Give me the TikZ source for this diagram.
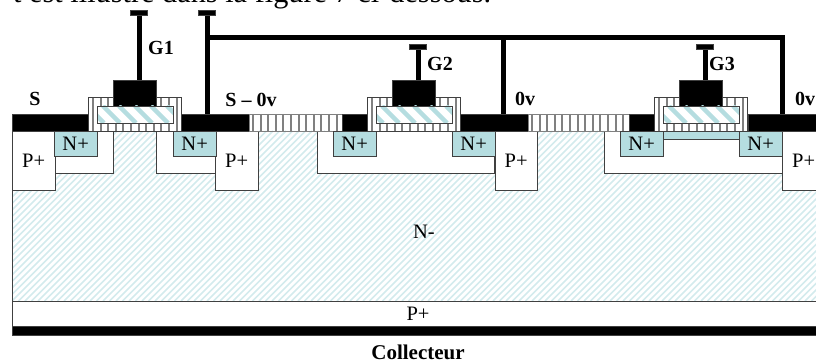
\documentclass[tikz,border=0pt]{standalone}
\usepackage{fontspec}
\setmainfont{Liberation Serif}
\definecolor{paleteal}{HTML}{B5DDE0}
\definecolor{hatchteal}{HTML}{D3EBED}
\begin{document}
\begin{tikzpicture}[x=1pt,y=-1pt,
    outline/.style={draw=black!75, line width=0.8pt},
    metal/.style={fill=black, draw=black!75, line width=0.5pt},
    wire/.style={draw=black, line width=5pt},
    bulkline/.style={draw=hatchteal, line width=1.7pt},
    polyline/.style={draw=paleteal, line width=4.5pt},
    stripeline/.style={draw=black!50, line width=2pt},
    well/.style={outline, fill=white},
    region/.style={outline, inner sep=0pt, font=\fontsize{20.5}{20.5}\selectfont},
    pplus/.style={region, fill=white, minimum width=42.5pt, minimum height=59pt, anchor=north west},
    nplus/.style={region, fill=paleteal, minimum width=42.5pt, minimum height=25pt, anchor=north west},
    lbl/.style={font=\fontsize{20}{20}\selectfont\bfseries, inner sep=0pt}]

\useasboundingbox (0,0) rectangle (816,363);
\node[anchor=base west, inner sep=0pt, font=\fontsize{30.3}{30.3}\selectfont] (phrase) at (13,3) {t est illustré dans la figure 7 ci-dessous.};

% substrate
\begin{scope}
    \clip (12,131) rectangle (830,301);
    \foreach \k in {0,6.5,...,1000}
        \draw[bulkline] (\k-170,301) -- (\k,131);
\end{scope}
\draw[outline] (12,131) -- (12,301);
\draw[well] (12,301) rectangle (830,326);
\fill[metal] (12,326) rectangle (830,335.5);

% wells
\draw[well] (54,131) rectangle (113,173);
\draw[well] (156,131) rectangle (215,173);
\draw[well] (317,131) rectangle (494,173);
\draw[well] (604,131) rectangle (782,173);

% p+ contacts
\node[pplus] (p1) at (12,131) {P+};
\node[pplus] (p2) at (215,131) {P+};
\node[pplus] (p3) at (494.5,131) {P+};
\node[pplus] (p4) at (782,131) {P+};

% surface
\fill[metal] (12,114) rectangle (88,131);
\fill[metal] (181,114) rectangle (249,131);
\draw[draw=black!50, line width=0.5pt] (249,114) rectangle (342,131);
\foreach \k in {253,260.6,...,340}
    \draw[stripeline] (\k,114) -- (\k,131);
\fill[metal] (342,114) rectangle (367,131);
\fill[metal] (460,114) rectangle (528,131);
\draw[draw=black!50, line width=0.5pt] (528,114) rectangle (629,131);
\foreach \k in {532,539.6,...,627}
    \draw[stripeline] (\k,114) -- (\k,131);
\fill[metal] (629,114) rectangle (655,131);
\fill[metal] (748,114) rectangle (830,131);

% channel under G3
\draw[outline, fill=paleteal] (663,131) rectangle (739,139);

% transistors
\foreach \i/\x/\ytop in {1/97/15,2/376/49,3/663/49} {
    \node[nplus] (ns\i) at (\x-43,131) {N+};
    \node[nplus] (nd\i) at (\x+76,131) {N+};
    \fill[white] (\x-9,97.5) rectangle (\x+84,131);
    \foreach \k in {-4,3.6,...,82}
        \draw[stripeline] (\x+\k,97.5) -- (\x+\k,131);
    \draw[outline] (\x-9,131) -- (\x-9,97.5) -- (\x+84,97.5) -- (\x+84,131) -- cycle;
    \draw[wire] (\x+42,\ytop) -- (\x+42,80);
    \fill[metal] (\x+33.5,\ytop-5) rectangle (\x+50.5,\ytop);
    \fill[metal] (\x+16,80) rectangle (\x+59,106);
    \fill[white] (\x,106) rectangle (\x+76,123);
    \begin{scope}
        \clip (\x,106) rectangle (\x+76,123);
        \foreach \k in {-10,6,...,80}
            \draw[polyline] (\x+\k,106) -- (\x+\k+17,123);
    \end{scope}
    \draw[outline] (\x,106) rectangle (\x+76,123);
}

% source bus
\draw[wire] (207,15) -- (207,114);
\fill[metal] (198.5,10) rectangle (215.5,15);
\draw[wire] (207,38) -- (782,38) -- (782,114);
\draw[wire] (503,38) -- (503,114);

\node[lbl] (g1) at (161,48) {G1};
\node[lbl] (g2) at (440,64) {G2};
\node[lbl] (g3) at (722,64) {G3};
\node[lbl] (s) at (35,99) {S};
\node[lbl] (s0) at (251,100) {S – 0v};
\node[lbl] (v1) at (525,99) {0v};
\node[lbl] (v2) at (805,99) {0v};
\node[region, draw=none] (nm) at (424,232) {N-};
\node[region, draw=none] (pc) at (418,314) {P+};
\node[lbl, anchor=base, font=\fontsize{21}{21}\selectfont\bfseries] (coll) at (418,359.5) {Collecteur};

\end{tikzpicture}
\end{document}
